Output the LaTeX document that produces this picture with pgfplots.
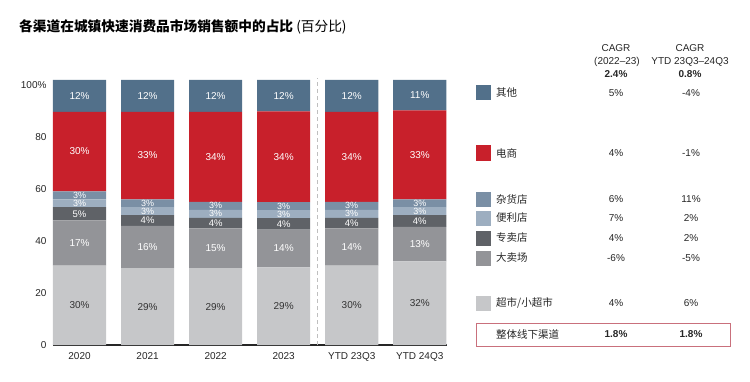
\documentclass[border=0pt]{standalone}
\usepackage{pgfplots}
\pgfplotsset{compat=1.18}
\usepackage{pgfplotstable}
\usepackage{fontspec}
\setmainfont{Liberation Sans}
\newfontfamily\cjk{Noto Sans CJK SC}

\definecolor{cOther}{HTML}{52708A}
\definecolor{cEcom}{HTML}{C8202B}
\definecolor{cGroc}{HTML}{7A8FA5}
\definecolor{cConv}{HTML}{9DAEC0}
\definecolor{cSpec}{HTML}{5F6267}
\definecolor{cHyper}{HTML}{939498}
\definecolor{cSuper}{HTML}{C6C7C9}
\definecolor{cBox}{HTML}{C9707C}

\pgfplotstableread{
x v lab
0 30 30
1 29 29
2 29 29
3 29.3 29
4 30 30
5 31.6 32
}\superT
\pgfplotstableread{
x v lab
0 17 17
1 16 16
2 15 15
3 14.2 14
4 14 14
5 13 13
}\hyperT
\pgfplotstableread{
x v lab
0 5 5
1 4 4
2 4 4
3 4.4 4
4 4 4
5 4.4 4
}\specT
\pgfplotstableread{
x v lab
0 3 3
1 3 3
2 3 3
3 3 3
4 3 3
5 3 3
}\convT
\pgfplotstableread{
x v lab
0 3 3
1 3 3
2 3 3
3 3 3
4 3 3
5 3 3
}\grocT
\pgfplotstableread{
x v lab
0 30 30
1 33 33
2 34 34
3 34.3 34
4 34 34
5 33.5 33
}\ecomT
\pgfplotstableread{
x v lab
0 12 12
1 12 12
2 12 12
3 11.8 12
4 12 12
5 11.5 11
}\otherT

\begin{document}
\begin{tikzpicture}
\useasboundingbox (0,0) rectangle (750pt,381pt);
\begin{axis}[
  at={(53pt,36pt)}, anchor=south west, scale only axis,
  width=394pt, height=265pt,
  xmin=-0.39, xmax=5.40, ymin=0, ymax=100,
  ybar stacked, bar width=0.78,
  axis lines*=left,
  y axis line style={draw=none},
  x axis line style={draw=black!85, line width=1.3pt},
  xtick style={draw=none}, ytick style={draw=none},
  xtick={0,1,2,3,4,5},
  xticklabels={2020,2021,2022,2023,YTD 23Q3,YTD 24Q3},
  xticklabel style={yshift=-4pt},
  yticklabel style={xshift=-3pt},
  ytick={0,19.6,39.3,58.9,78.5,98.1},
  yticklabels={0,20,40,60,80,100\%},
  tick label style={font=\fontsize{10}{12}\selectfont, text=black!85},
  /pgf/number format/assume math mode=true,
  clip=false,
  point meta=explicit symbolic,
  nodes near coords={\pgfplotspointmeta\%},
  every node near coord/.append style={anchor=center, inner sep=0pt,
     font=\fontsize{10}{10}\selectfont, text=white},
]
\addplot[fill=cSuper, draw=none, every node near coord/.append style={text=black!80}] table[x=x,y=v,meta=lab]{\superT};
\addplot[fill=cHyper, draw=none] table[x=x,y=v,meta=lab]{\hyperT};
\addplot[fill=cSpec, draw=none, every node near coord/.append style={font=\fontsize{9.5}{9.5}\selectfont}] table[x=x,y=v,meta=lab]{\specT};
\addplot[fill=cConv, draw=none, every node near coord/.append style={font=\fontsize{9}{9}\selectfont}] table[x=x,y=v,meta=lab]{\convT};
\addplot[fill=cGroc, draw=none, every node near coord/.append style={font=\fontsize{9}{9}\selectfont}] table[x=x,y=v,meta=lab]{\grocT};
\addplot[fill=cEcom, draw=none] table[x=x,y=v,meta=lab]{\ecomT};
\addplot[fill=cOther, draw=none] table[x=x,y=v,meta=lab]{\otherT};
\draw[draw=black!25, line width=0.8pt, dash pattern=on 4pt off 3pt] (axis cs:3.5,0) -- (axis cs:3.5,100.8);
\end{axis}

% title
\node[anchor=west, inner sep=0pt] at (19pt,354pt)
  {\fontsize{13.7}{14}\selectfont\cjk\bfseries 各渠道在城镇快速消费品市场销售额中的占比\mdseries\ (百分比)};

% header
\begin{scope}[every node/.style={inner sep=0pt, font=\fontsize{10}{11}\selectfont, text=black!85}]
\node at (616pt,332.7pt) {CAGR};
\node at (617pt,319.3pt) {(2022–23)};
\node at (616pt,306.7pt) {\bfseries 2.4\%};
\node at (690pt,332.7pt) {CAGR};
\node at (690pt,319.3pt) {YTD 23Q3–24Q3};
\node at (690pt,306.7pt) {\bfseries 0.8\%};
\end{scope}

% legend rows
\newcommand{\legrow}[5]{%
  \fill[#1] (476pt,#2pt-7.5pt) rectangle (491pt,#2pt+7.5pt);
  \node[anchor=west, inner sep=0pt, font=\fontsize{10.5}{11}\selectfont\cjk, text=black!85] at (496pt,#2pt) {#3};
  \node[inner sep=0pt, font=\fontsize{10}{11}\selectfont, text=black!85] at (616pt,#2pt) {#4};
  \node[inner sep=0pt, font=\fontsize{10}{11}\selectfont, text=black!85] at (691pt,#2pt) {#5};
}
\legrow{cOther}{288}{其他}{5\%}{-4\%}
\legrow{cEcom}{228}{电商}{4\%}{-1\%}
\legrow{cGroc}{182}{杂货店}{6\%}{11\%}
\legrow{cConv}{163}{便利店}{7\%}{2\%}
\legrow{cSpec}{143}{专卖店}{4\%}{2\%}
\legrow{cHyper}{123}{大卖场}{-6\%}{-5\%}
\legrow{cSuper}{78}{超市/小超市}{4\%}{6\%}

\draw[cBox, line width=0.9pt] (476pt,35pt) rectangle (730pt,58pt);
\node[anchor=west, inner sep=0pt, font=\fontsize{10.5}{11}\selectfont\cjk, text=black!85] at (496pt,47pt) {整体线下渠道};
\node[inner sep=0pt, font=\fontsize{10}{11}\selectfont\bfseries, text=black!85] at (616pt,47pt) {1.8\%};
\node[inner sep=0pt, font=\fontsize{10}{11}\selectfont\bfseries, text=black!85] at (691pt,47pt) {1.8\%};
\end{tikzpicture}
\end{document}
